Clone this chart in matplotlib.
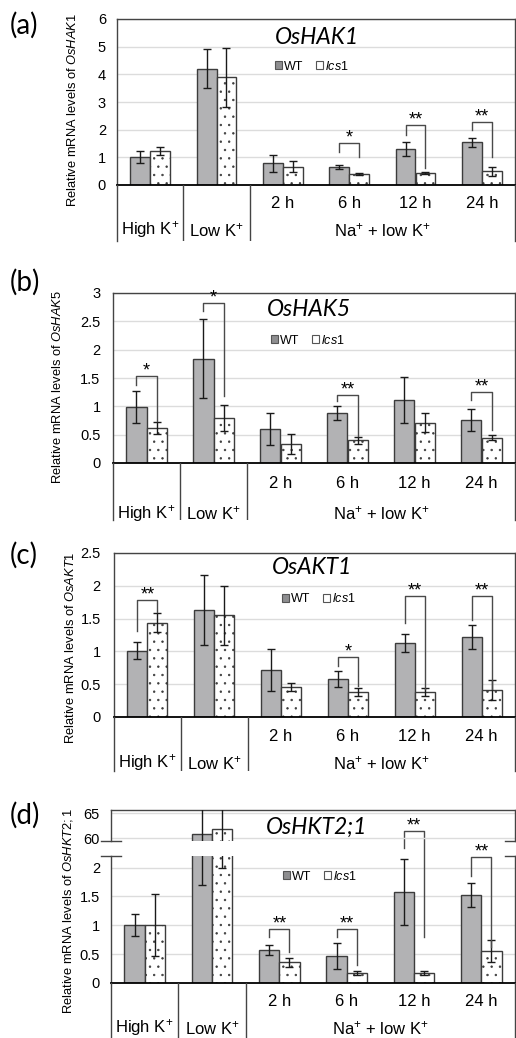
import matplotlib
matplotlib.use('Agg')
import matplotlib.pyplot as plt
from matplotlib.patches import Patch
from matplotlib.lines import Line2D
import numpy as np

plt.rcParams['font.family'] = ['Liberation Sans', 'DejaVu Sans']
plt.rcParams['mathtext.fontset'] = 'custom'
plt.rcParams['mathtext.rm'] = 'Liberation Sans'
plt.rcParams['mathtext.it'] = 'Liberation Sans:italic'
plt.rcParams['hatch.linewidth'] = 0.5

# categories
groups = ['High K$^{+}$', 'Low K$^{+}$', 'Na$^{+}$ + low K$^{+}$']
times = ['2 h', '6 h', '12 h', '24 h']
genes = ['OsHAK1', 'OsHAK5', 'OsAKT1', 'OsHKT2;1']

# (a) OsHAK1
wt_a = [1.00, 4.20, 0.78, 0.66, 1.31, 1.54]
wt_a_err = [0.22, 0.71, 0.32, 0.075, 0.25, 0.17]
lcs_a = [1.23, 3.89, 0.66, 0.40, 0.42, 0.49]
lcs_a_err = [0.14, 1.06, 0.20, 0.05, 0.04, 0.17]
sig_a = [(3, 1.53, 1.20, 1.00, '*'), (4, 2.17, 1.80, 0.60, '**'), (5, 2.27, 1.99, 1.02, '**')]

# (b) OsHAK5
wt_b = [0.99, 1.84, 0.60, 0.88, 1.11, 0.76]
wt_b_err = [0.28, 0.70, 0.29, 0.12, 0.41, 0.20]
lcs_b = [0.62, 0.79, 0.34, 0.40, 0.71, 0.45]
lcs_b_err = [0.11, 0.23, 0.18, 0.06, 0.17, 0.045]
sig_b = [(0, 1.53, 1.38, 0.74, '*'), (1, 2.82, 2.68, 1.18, '*'), (3, 1.20, 1.09, 0.47, '**'), (5, 1.25, 1.12, 0.59, '**')]

# (c) OsAKT1
wt_c = [1.01, 1.63, 0.71, 0.58, 1.13, 1.22]
wt_c_err = [0.13, 0.54, 0.32, 0.12, 0.14, 0.18]
lcs_c = [1.44, 1.55, 0.46, 0.38, 0.38, 0.41]
lcs_c_err = [0.14, 0.45, 0.065, 0.065, 0.065, 0.15]
sig_c = [(0, 1.78, 1.31, 1.60, '**'), (3, 0.91, 0.78, 0.47, '*'), (4, 1.85, 1.44, 0.43, '**'), (5, 1.85, 1.48, 0.43, '**')]

# (d) OsHKT2;1 (broken axis)
wt_d = [1.00, 60.8, 0.57, 0.47, 1.58, 1.52]
wt_d_err = [0.19, 59.1, 0.09, 0.22, 0.57, 0.21]
lcs_d = [1.00, 61.8, 0.36, 0.17, 0.17, 0.55]
lcs_d_err = [0.54, 59.8, 0.08, 0.03, 0.03, 0.19]
sig_d = [(2, 0.93, 0.80, 0.54, '**'), (3, 0.93, 0.80, 0.32, '**'), (4, 2.63, 2.34, 0.80, '**'), (5, 2.19, 1.86, 0.63, '**')]

W, H = 516, 1038
R = 515
fig = plt.figure(figsize=(W / 100, H / 100), dpi=100)


def rect(l, t, r, b):
    return [l / W, 1 - b / H, (r - l) / W, (b - t) / H]


x = np.arange(6) + 0.5
bw = 0.3
EDGE = '#3c3c3c'


def draw_bars(ax, wt, wt_err, mu, mu_err):
    ax.bar(x - bw / 2, wt, bw, color='#b2b2b4', edgecolor=EDGE, lw=1, zorder=2)
    ax.bar(x + bw / 2, mu, bw, color='white', edgecolor=EDGE, lw=1, hatch='..', zorder=2)
    ax.errorbar(x - bw / 2, wt, yerr=wt_err, fmt='none', ecolor='#1a1a1a',
                elinewidth=1, capsize=3, capthick=1, zorder=3)
    ax.errorbar(x + bw / 2, mu, yerr=mu_err, fmt='none', ecolor='#1a1a1a',
                elinewidth=1, capsize=3, capthick=1, zorder=3)


def draw_sig(ax, sig):
    for i, top, left_end, right_end, star in sig:
        xl = x[i] - bw / 2
        xr = x[i] + bw / 2
        ax.plot([xl, xl, xr, xr], [left_end, top, top, right_end], color='#4a4a4a',
                lw=1, clip_on=False, zorder=4)
        ax.annotate(star, (x[i], top), xytext=(0, -2.5), textcoords='offset points',
                    ha='center', va='bottom', fontsize=13, annotation_clip=False)


def style_axes(ax, ymax, step, pad, top=True, bottom=True):
    ax.set_xlim(0, 6)
    ax.set_ylim(0, ymax)
    ticks = np.arange(0, ymax + step / 2, step)
    ax.set_yticks(ticks)
    ax.set_yticklabels([f'{t:g}' for t in ticks])
    ax.yaxis.grid(True, color='#dcdcdc', lw=1)
    ax.set_axisbelow(True)
    ax.set_xticks([])
    ax.tick_params(axis='y', length=0, labelsize=10.5, pad=pad)
    for s in ['left', 'right', 'top']:
        ax.spines[s].set_color('#444444')
        ax.spines[s].set_linewidth(1)
    ax.spines['bottom'].set_color('black')
    ax.spines['bottom'].set_linewidth(1.3)
    ax.spines['top'].set_visible(top)
    ax.spines['bottom'].set_visible(bottom)


def category_axis(l, zero, bottom, row1, row2):
    cax = fig.add_axes(rect(l, zero, R, bottom))
    cax.set_xlim(0, 6)
    cax.set_ylim(bottom, zero)
    cax.patch.set_visible(False)
    cax.set_xticks([])
    cax.set_yticks([])
    cax.spines['top'].set_visible(False)
    cax.spines['bottom'].set_visible(False)
    for s in ['left', 'right']:
        cax.spines[s].set_color('#444444')
        cax.spines[s].set_linewidth(1)
    for sx in [1, 2]:
        cax.plot([sx, sx], [zero, bottom], color='#444444', lw=1)
    for t, xc in zip(times, x[2:]):
        cax.text(xc, row1, t, ha='center', va='center', fontsize=12)
    for g, xc in zip(groups, [0.5, 1.5, 4.0]):
        cax.text(xc, row2, g, ha='center', va='center', fontsize=12)


def legend(ax, cx, cy):
    handles = [Patch(facecolor='#8e8e90', edgecolor='#555555', lw=0.8),
               Patch(facecolor='white', edgecolor='#555555', lw=0.8)]
    ax.legend(handles, ['WT', '$\\mathit{lcs1}$'], loc='center', ncol=2,
              bbox_to_anchor=(cx / W, 1 - cy / H), bbox_transform=fig.transFigure,
              frameon=False, fontsize=9, handlelength=0.55, handleheight=0.55,
              handletextpad=0.2, columnspacing=1.0, borderpad=0)


def labels(letter, lx, ly, gene, tx, ty, ylx, yly):
    fig.text(lx / W, 1 - ly / H, letter, fontsize=20, family=['Lato', 'DejaVu Sans'],
             ha='left', va='center')
    fig.text(tx / W, 1 - ty / H, gene, fontsize=16.5, style='italic',
             family=['Lato', 'DejaVu Sans'], ha='center', va='center')
    fig.text(ylx / W, 1 - yly / H, 'Relative mRNA levels of $\\mathit{' + gene + '}$',
             rotation=90, fontsize=9.3, ha='center', va='center')


# ---- panel (a)
ax = fig.add_axes(rect(117, 19, R, 185))
style_axes(ax, 6, 1, 8)
draw_bars(ax, wt_a, wt_a_err, lcs_a, lcs_a_err)
draw_sig(ax, sig_a)
legend(ax, 312, 66)
category_axis(117, 185, 241, 204, 230)
labels('(a)', 10, 25, genes[0], 317, 37, 72, 110)

# ---- panel (b)
ax = fig.add_axes(rect(113, 293, R, 463))
style_axes(ax, 3, 0.5, 9)
draw_bars(ax, wt_b, wt_b_err, lcs_b, lcs_b_err)
draw_sig(ax, sig_b)
legend(ax, 308, 340)
category_axis(113, 463, 520, 483, 513)
labels('(b)', 10, 282, genes[1], 309, 310, 58, 387)

# ---- panel (c)
ax = fig.add_axes(rect(114, 553, R, 717))
style_axes(ax, 2.5, 0.5, 9.5)
draw_bars(ax, wt_c, wt_c_err, lcs_c, lcs_c_err)
draw_sig(ax, sig_c)
legend(ax, 319, 599)
category_axis(114, 717, 771, 737, 763)
labels('(c)', 10, 555, genes[2], 312, 568, 71, 648)

# ---- panel (d): broken y axis
ax_lo = fig.add_axes(rect(111, 856, R, 983))
style_axes(ax_lo, 2.2, 0.5, 8, top=False)
ax_lo.set_yticks([0, 0.5, 1, 1.5, 2])
ax_lo.set_yticklabels(['0', '0.5', '1', '1.5', '2'])
draw_bars(ax_lo, wt_d, wt_d_err, lcs_d, lcs_d_err)
draw_sig(ax_lo, sig_d)
legend(ax_lo, 320, 876)

ax_hi = fig.add_axes(rect(111, 810, R, 841))
style_axes(ax_hi, 65.6, 5, 8, bottom=False)
ax_hi.set_ylim(59.47, 65.6)
ax_hi.set_yticks([60, 65])
ax_hi.set_yticklabels(['60', '65'])
ax_hi.patch.set_visible(False)
draw_bars(ax_hi, wt_d, wt_d_err, lcs_d, lcs_d_err)

for by in [841, 856]:
    for bx in [111, R]:
        fig.add_artist(Line2D([(bx - 10) / W, (bx + 10) / W], [1 - by / H, 1 - by / H],
                              color='#444444', lw=1))

category_axis(111, 983, 1038, 1002, 1028)
labels('(d)', 10, 815, genes[3], 317, 827, 68, 911)

fig.savefig('out.png', dpi=100)
